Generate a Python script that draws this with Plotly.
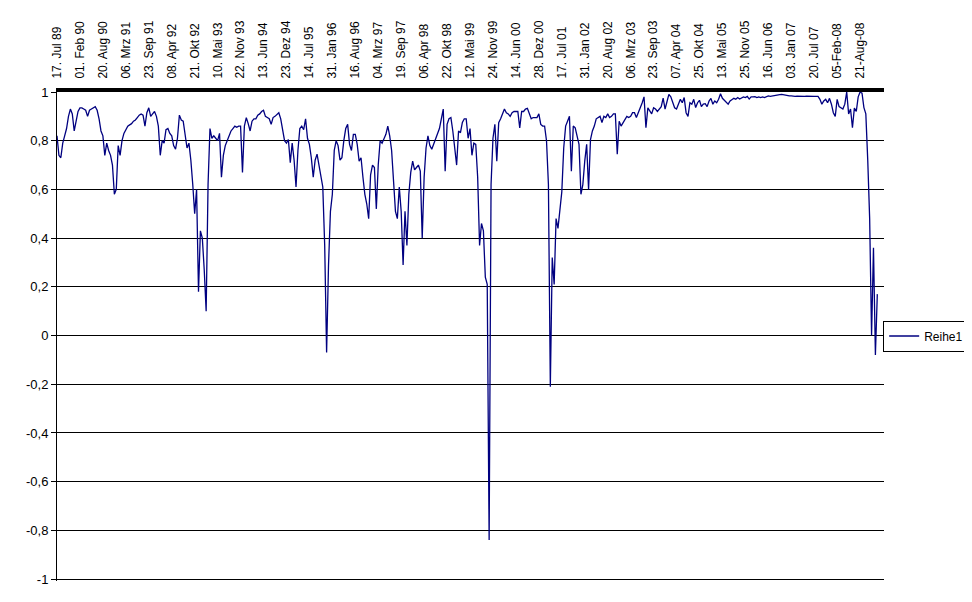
import plotly.graph_objects as go

# ---- data ----
# tick labels of the category (date) axis; one label every LABEL_EVERY observations
date_labels = [
    "17. Jul 89", "01. Feb 90", "20. Aug 90", "06. Mrz 91", "23. Sep 91", "08. Apr 92",
    "21. Okt 92", "10. Mai 93", "22. Nov 93", "13. Jun 94", "23. Dez 94", "14. Jul 95",
    "31. Jan 96", "16. Aug 96", "04. Mrz 97", "19. Sep 97", "06. Apr 98", "22. Okt 98",
    "12. Mai 99", "24. Nov 99", "14. Jun 00", "28. Dez 00", "17. Jul 01", "31. Jan 02",
    "20. Aug 02", "06. Mrz 03", "23. Sep 03", "07. Apr 04", "25. Okt 04", "13. Mai 05",
    "25. Nov 05", "16. Jun 06", "03. Jan 07", "20. Jul 07", "05-Feb-08", "21-Aug-08",
]
LABEL_EVERY = 12

reihe1_part1 = [
    0.82, 0.74, 0.73, 0.79, 0.82, 0.85, 0.90, 0.93, 0.91, 0.84,
    0.88, 0.92, 0.935, 0.935, 0.93, 0.925, 0.90, 0.925, 0.93, 0.935,
    0.94, 0.925, 0.89, 0.84, 0.82, 0.74, 0.79, 0.76, 0.74, 0.70,
    0.58, 0.60, 0.78, 0.74, 0.80, 0.83, 0.845, 0.86, 0.865, 0.87,
    0.88, 0.885, 0.895, 0.905, 0.91, 0.905, 0.86, 0.915, 0.935, 0.90,
    0.91, 0.92, 0.90, 0.86, 0.74, 0.80, 0.79, 0.845, 0.85, 0.83,
    0.82, 0.78, 0.765, 0.81, 0.905, 0.885, 0.88, 0.83, 0.77, 0.79,
    0.72, 0.62, 0.50, 0.60, 0.18, 0.43, 0.40, 0.27, 0.10, 0.62,
    0.85, 0.81, 0.82, 0.81, 0.80, 0.83, 0.65, 0.74, 0.78, 0.80,
    0.825, 0.84, 0.85, 0.86, 0.855, 0.86, 0.86, 0.67, 0.86, 0.895,
    0.87, 0.84, 0.88, 0.89, 0.89, 0.905, 0.91, 0.92, 0.925,
]
reihe1_part2 = [
    0.90, 0.895, 0.89, 0.867, 0.895, 0.90, 0.91, 0.915, 0.89, 0.85,
    0.80, 0.79, 0.805, 0.71, 0.79, 0.72, 0.61, 0.76, 0.85, 0.86,
    0.845, 0.89, 0.81, 0.785, 0.73, 0.65, 0.72, 0.745, 0.70, 0.66,
    0.61, 0.37, -0.07, 0.29, 0.51, 0.58, 0.76, 0.80, 0.78, 0.72,
    0.73, 0.80, 0.85, 0.867, 0.785, 0.76, 0.826, 0.826, 0.785, 0.716,
    0.73, 0.65, 0.58, 0.54, 0.48, 0.66, 0.70, 0.69, 0.52, 0.70,
    0.80, 0.79, 0.805, 0.826, 0.86, 0.82, 0.76, 0.634, 0.51, 0.48,
    0.61, 0.51, 0.29, 0.51, 0.37, 0.58, 0.67, 0.716, 0.68, 0.69,
    0.70, 0.675, 0.40, 0.65, 0.77, 0.82, 0.78, 0.765, 0.785, 0.81,
    0.826, 0.85, 0.89, 0.93, 0.675, 0.867, 0.89, 0.895, 0.84, 0.77,
    0.70, 0.84, 0.833, 0.875, 0.89, 0.89, 0.81, 0.85, 0.74, 0.79,
]
reihe1_part3 = [
    0.785, 0.65, 0.37, 0.46, 0.43, 0.24, 0.21, -0.84, 0.62, 0.81,
    0.867, 0.716, 0.874, 0.89, 0.91, 0.93, 0.915, 0.91, 0.90, 0.915,
    0.92, 0.92, 0.92, 0.853, 0.92, 0.92, 0.93, 0.933, 0.915, 0.89,
    0.895, 0.895, 0.895, 0.91, 0.867, 0.86, 0.86, 0.80, 0.62, -0.21,
    0.32, 0.21, 0.48, 0.44, 0.52, 0.59, 0.77, 0.86, 0.88, 0.90,
    0.675, 0.86, 0.853, 0.82, 0.785, 0.58, 0.62, 0.716, 0.785, 0.60,
    0.805, 0.84, 0.86, 0.89, 0.895, 0.90, 0.874, 0.90, 0.895, 0.91,
    0.895, 0.90, 0.91, 0.91, 0.745, 0.88, 0.86, 0.874, 0.89, 0.90,
    0.895, 0.90, 0.915, 0.915, 0.895, 0.915, 0.93, 0.955, 0.98, 0.853,
    0.935, 0.92, 0.91, 0.935, 0.93, 0.92, 0.93, 0.94, 0.975, 0.93,
    0.96, 0.99, 0.98, 0.955, 0.935, 0.93, 0.95,
]
reihe1_part4 = [
    0.97, 0.956, 0.977, 0.915, 0.90, 0.956, 0.95, 0.97, 0.936, 0.956,
    0.966, 0.94, 0.95, 0.952, 0.94, 0.963, 0.974, 0.95, 0.963, 0.956,
    0.97, 0.993, 0.974, 0.966, 0.956, 0.95, 0.963, 0.97, 0.974, 0.97,
    0.977, 0.971, 0.974, 0.98, 0.977, 0.982, 0.971, 0.98, 0.98, 0.981,
    0.977, 0.98, 0.977, 0.98, 0.977, 0.981, 0.984, 0.982, 0.984, 0.986,
    0.988, 0.99, 0.989, 0.99, 0.988, 0.986, 0.985, 0.984, 0.984, 0.982,
    0.982, 0.983, 0.982, 0.982, 0.981, 0.982, 0.983, 0.982, 0.982, 0.981,
    0.982, 0.982, 0.982,
    0.97, 0.95, 0.963, 0.97, 0.956, 0.974, 0.95, 0.915, 0.90, 0.97,
    0.94, 0.936, 0.93, 0.95, 1.0, 0.91, 0.93, 0.853, 0.934, 0.92,
    0.98, 1.0, 0.995, 0.936, 0.91, 0.72, 0.48, 0.0, 0.36, -0.08, 0.17,
]

y_tick_values = [-1, -0.8, -0.6, -0.4, -0.2, 0, 0.2, 0.4, 0.6, 0.8, 1]
y_tick_labels = ["-1", "-0,8", "-0,6", "-0,4", "-0,2", "0", "0,2", "0,4", "0,6", "0,8", "1"]

# ---- build figure ----
reihe1 = reihe1_part1 + reihe1_part2 + reihe1_part3 + reihe1_part4
x_index = list(range(len(reihe1)))
x_tickvals = [i * LABEL_EVERY for i in range(len(date_labels))]

FONT = "Arial, Liberation Sans, sans-serif"

fig = go.Figure()
fig.add_trace(go.Scatter(
    x=x_index, y=reihe1, mode="lines", name="Reihe1",
    line=dict(color="#000080", width=1.3),
))

fig.update_layout(
    width=964, height=594,
    margin=dict(l=49, r=88, t=84, b=21, autoexpand=False),
    paper_bgcolor="white", plot_bgcolor="white",
    font=dict(family=FONT, size=13, color="black"),
    showlegend=True,
    legend=dict(
        x=0.999, y=0.501, xanchor="left", yanchor="middle",
        bordercolor="black", borderwidth=1, bgcolor="white",
        font=dict(family=FONT, size=12, color="black"),
        tracegroupgap=0,
    ),
    xaxis=dict(
        side="top", range=[0, 432.5],
        tickmode="array", tickvals=x_tickvals, ticktext=date_labels,
        tickangle=-90, tickfont=dict(family=FONT, size=12, color="black"),
        showgrid=False, zeroline=False,
        showline=True, linecolor="black", linewidth=4,
        ticks="outside", ticklen=7, tickcolor="white",
    ),
    yaxis=dict(
        range=[-1.008, 1],
        tickmode="array", tickvals=y_tick_values, ticktext=y_tick_labels,
        tickfont=dict(family=FONT, size=13, color="black"),
        showgrid=True, gridcolor="black", gridwidth=1,
        zeroline=True, zerolinecolor="black", zerolinewidth=1,
        showline=True, linecolor="black", linewidth=1,
        ticks="outside", ticklen=5, tickcolor="black",
    ),
)

fig.write_html("out.html")
